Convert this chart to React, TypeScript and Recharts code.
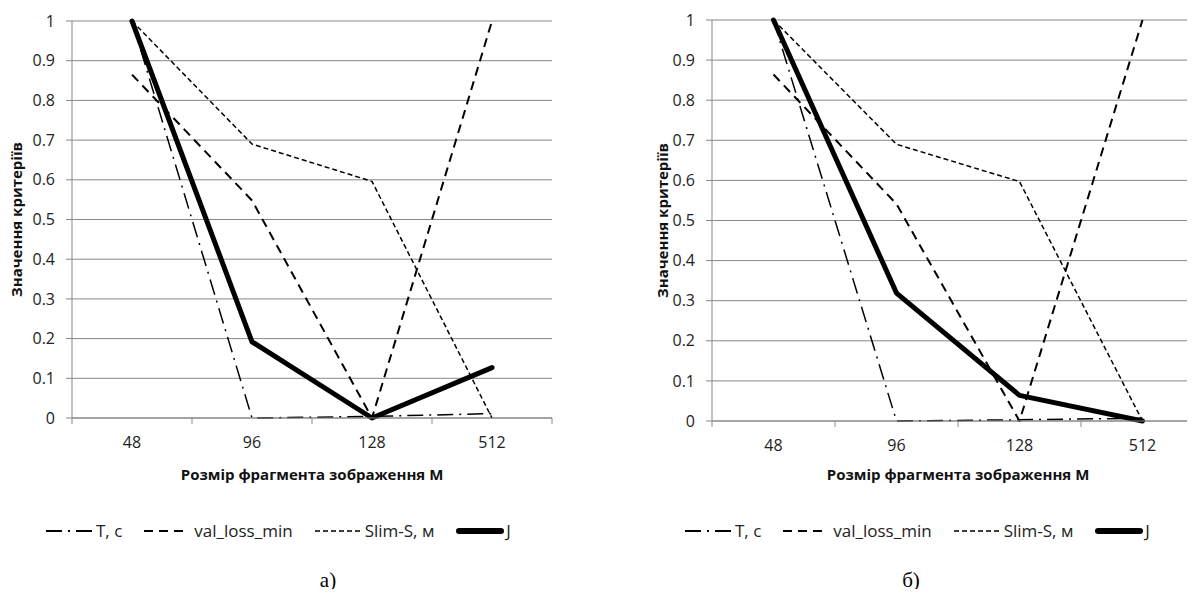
import { LineChart, Line, XAxis, YAxis, CartesianGrid } from 'recharts';

const sizes = ['48', '96', '128', '512'];
const yTicks = [0, 0.1, 0.2, 0.3, 0.4, 0.5, 0.6, 0.7, 0.8, 0.9, 1];
const xTicks = [-0.5, 0, 0.5, 1, 1.5, 2, 2.5, 3, 3.5];

// а)
const timeA = [1, 0, 0.004, 0.011];
const lossA = [0.865, 0.548, 0, 1];
const slimA = [1, 0.69, 0.596, 0];
const jA = [1, 0.192, 0, 0.127];

// б)
const timeB = [1, 0, 0.003, 0.007];
const lossB = [0.864, 0.541, 0, 1];
const slimB = [1, 0.69, 0.597, 0];
const jB = [1, 0.319, 0.064, 0];

const seriesNames = ['T, с', 'val_loss_min', 'Slim-S, м', 'J'];

const FONT = "'Open Sans', sans-serif";
const GRID = '#878787';

// legend sample: x1/x2 inside a 48px box
const lineStyles = [
  { key: 'time', dash: '16 6 2 6', width: 1.5, legendWidth: 2, cap: 'butt', x1: 0, x2: 48 },
  { key: 'loss', dash: '9 6', width: 2, legendWidth: 2, cap: 'butt', x1: 0, x2: 39 },
  { key: 'slim', dash: '5 3', width: 1.5, legendWidth: 1.5, cap: 'butt', x1: 0, x2: 48 },
  { key: 'j', dash: undefined, width: 5, legendWidth: 6, cap: 'round', x1: 3, x2: 45 },
];

const buildRows = (t: number[], l: number[], s: number[], j: number[]) =>
  sizes.map((size, i) => ({ idx: i, size, time: t[i], loss: l[i], slim: s[i], j: j[i] }));

function SizeTick({ x, y, payload }: any) {
  const v = payload.value;
  if (!Number.isInteger(v)) {
    return <line x1={x} x2={x} y1={y} y2={y + 6} stroke={GRID} />;
  }
  return (
    <text x={x} y={y + 30} textAnchor="middle" fill="#222" fontSize={16} fontFamily={FONT}>
      {sizes[v]}
    </text>
  );
}

function LegendRow({ left, top }: { left: number; top: number }) {
  return (
    <div
      style={{
        position: 'absolute',
        left,
        top,
        display: 'flex',
        alignItems: 'center',
        gap: 22,
        fontFamily: FONT,
        fontSize: 17,
        color: '#222',
        whiteSpace: 'nowrap',
      }}
    >
      {lineStyles.map((s, i) => (
        <div key={s.key} style={{ display: 'flex', alignItems: 'center' }}>
          <svg width={48} height={12}>
            <line
              x1={s.x1}
              x2={s.x2}
              y1={6}
              y2={6}
              stroke="#000"
              strokeWidth={s.legendWidth}
              strokeDasharray={s.dash}
              strokeLinecap={s.cap as any}
            />
          </svg>
          <span style={{ marginLeft: 2 }}>{seriesNames[i]}</span>
        </div>
      ))}
    </div>
  );
}

interface PanelProps {
  left: number;
  rows: any[];
  top: number;
  right: number;
  axisHeight: number;
  yTitleOffset: number;
  legendLeft: number;
}

function Panel({ left, rows, top, right, axisHeight, yTitleOffset, legendLeft }: PanelProps) {
  return (
    <div style={{ position: 'absolute', left, top: 0, width: 600, height: 597 }}>
      <LineChart width={600} height={500} data={rows} margin={{ top, right, bottom: 0, left: 0 }}>
        <CartesianGrid vertical={false} stroke={GRID} />
        <XAxis
          dataKey="idx"
          type="number"
          domain={[-0.5, 3.5]}
          ticks={xTicks}
          interval={0}
          height={axisHeight}
          stroke={GRID}
          tickLine={false}
          tickSize={0}
          tickMargin={0}
          tick={<SizeTick />}
          label={{
            value: 'Розмір фрагмента зображення М',
            position: 'insideBottom',
            offset: 20,
            style: { fontFamily: FONT, fontSize: 15, fontWeight: 700, fill: '#111' },
          }}
        />
        <YAxis
          type="number"
          domain={[0, 1]}
          ticks={yTicks}
          interval={0}
          width={72}
          stroke={GRID}
          tickSize={6}
          tickMargin={11}
          tickFormatter={(v: number) => String(v)}
          tick={{ fill: '#222', fontSize: 16, fontFamily: FONT }}
          label={{
            value: 'Значення критеріїв',
            angle: -90,
            position: 'insideLeft',
            offset: yTitleOffset,
            style: { textAnchor: 'middle', fontFamily: FONT, fontSize: 15, fontWeight: 700, fill: '#111' },
          }}
        />
        {lineStyles.map((s) => (
          <Line
            key={s.key}
            type="linear"
            dataKey={s.key}
            stroke="#000"
            strokeWidth={s.width}
            strokeDasharray={s.dash}
            strokeLinejoin="round"
            strokeLinecap={s.cap as any}
            dot={false}
            activeDot={false}
            isAnimationActive={false}
          />
        ))}
      </LineChart>
      <LegendRow left={legendLeft} top={519} />
    </div>
  );
}

export default function App() {
  const rowsA = buildRows(timeA, lossA, slimA, jA);
  const rowsB = buildRows(timeB, lossB, slimB, jB);

  return (
    <div
      style={{
        position: 'relative',
        width: 1195,
        height: 597,
        margin: -8,
        overflow: 'hidden',
        background: '#fff',
      }}
    >
      <Panel left={0} rows={rowsA} top={21} right={48} axisHeight={82} yTitleOffset={17} legendLeft={46} />
      <Panel left={640} rows={rowsB} top={20} right={36} axisHeight={79} yTitleOffset={23} legendLeft={45} />
      <div
        style={{
          position: 'absolute',
          left: 328,
          top: 580,
          transform: 'translate(-50%, -50%)',
          fontFamily: "'Liberation Serif', serif",
          fontSize: 21,
        }}
      >
        а)
      </div>
      <div
        style={{
          position: 'absolute',
          left: 911,
          top: 580,
          transform: 'translate(-50%, -50%)',
          fontFamily: "'Liberation Serif', serif",
          fontSize: 21,
        }}
      >
        б)
      </div>
    </div>
  );
}
